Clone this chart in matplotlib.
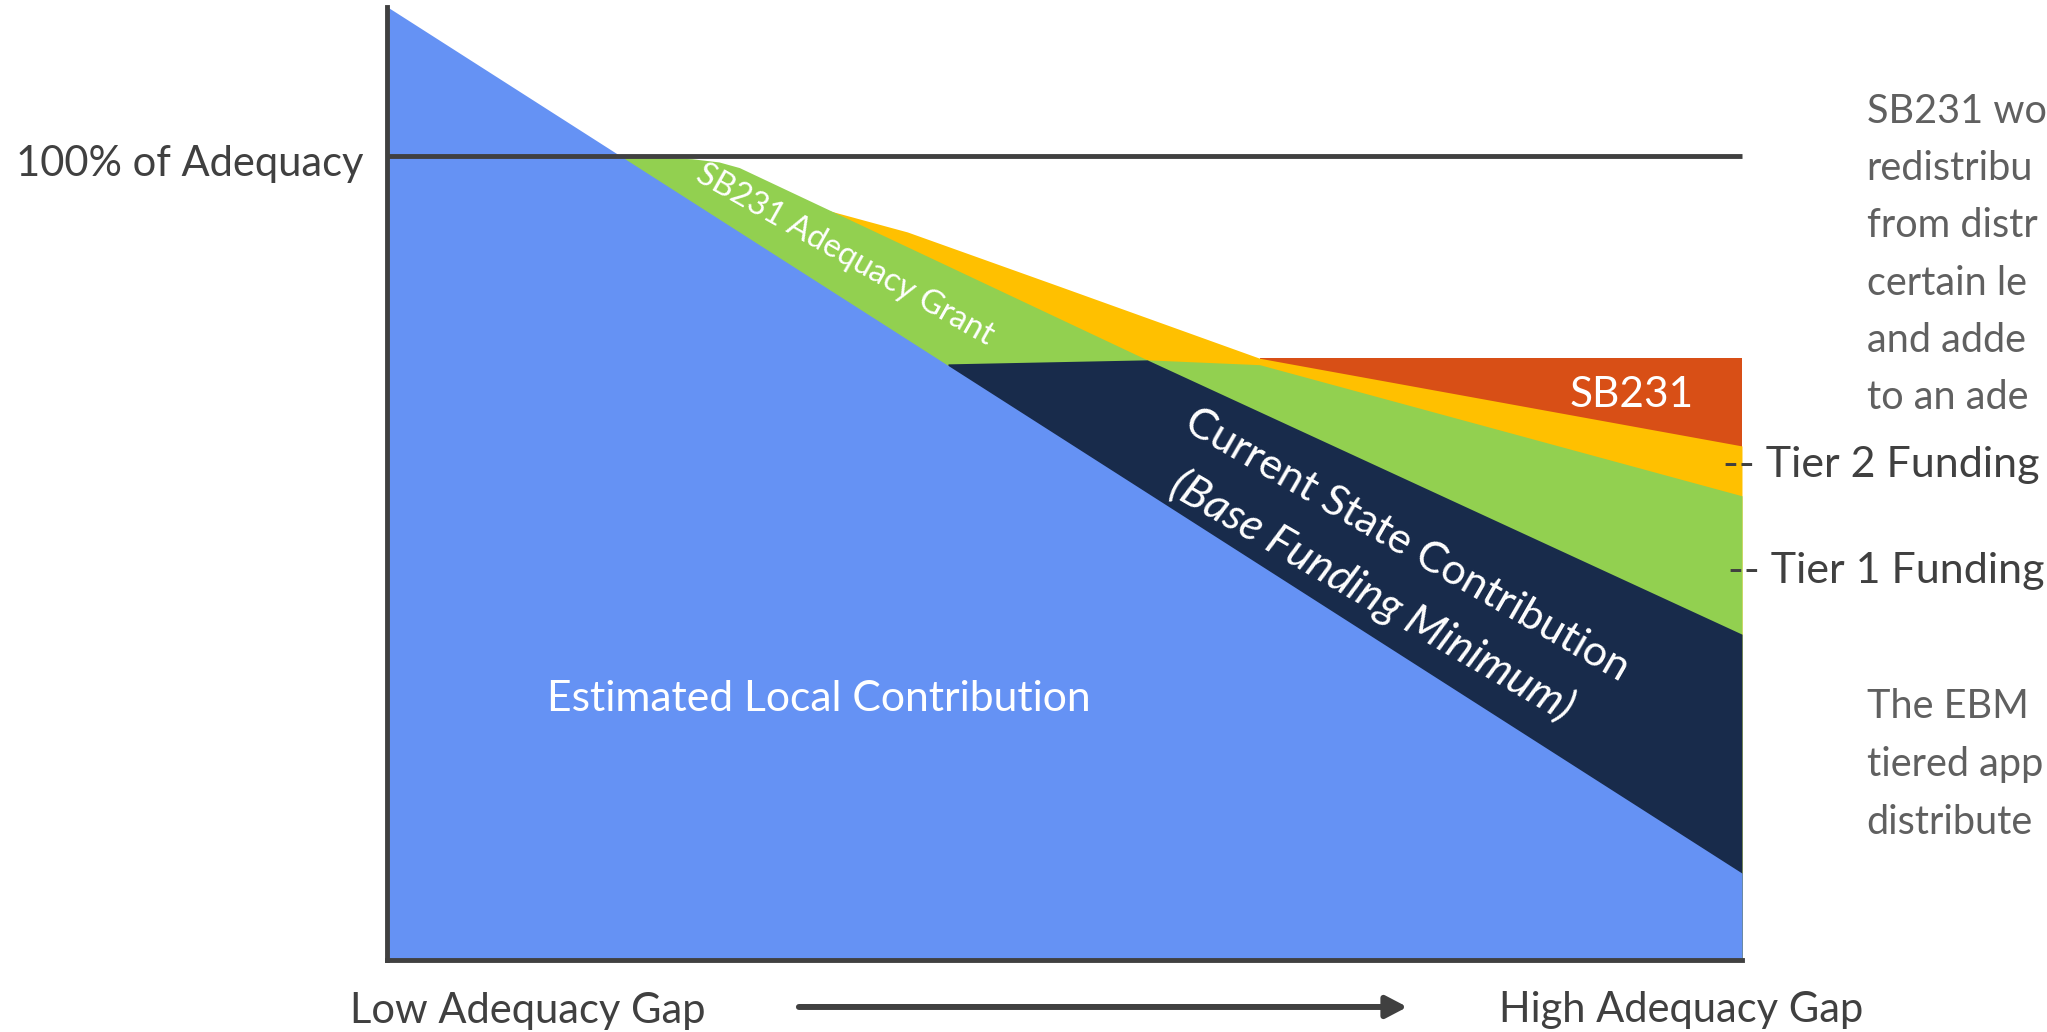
import matplotlib
matplotlib.use("Agg")
import matplotlib.pyplot as plt

plt.rcParams["font.family"] = ["Lato", "DejaVu Sans"]

# boundary curves (x: adequacy gap 0-100, y: % of adequacy)
local_x = [0, 100]
local_top = [118.5, 10.8]

base_x = [41.4, 56.1, 100]
base_top = [74.1, 74.6, 40.5]

grant_x = [16.9, 22.5, 24.5, 26.0, 56.1, 64.4, 100]
grant_top = [100.0, 99.6, 99.2, 98.5, 74.6, 74.0, 57.7]

tier2_x = [32.5, 38.4, 49.7, 64.4, 100]
tier2_top = [93.2, 90.5, 83.7, 74.8, 63.9]

sb231_x = [64.4, 100]
sb231_top = [74.8, 74.8]

# side notes, cut off at the slide edge in the original
upper_note = ["SB231 wo", "redistribu", "from distr", "certain le",
              "and adde", "to an ade"]
lower_note = ["The EBM", "tiered app", "distribute"]

BLUE = "#6592F4"
NAVY = "#182B4B"
GREEN = "#92D050"
YELLOW = "#FFC000"
RED = "#D84F16"
DARK = "#404040"
GREY = "#606060"


def main() -> None:
    fig = plt.figure(figsize=(20.47, 10.32), dpi=100)
    ax = fig.add_axes([0, 0, 1, 1])
    ax.set_xlim(-28.56, 122.51)
    ax.set_ylim(-8.95, 119.33)
    ax.axis("off")

    # painter's order: each band filled down to 0, lower bands on top
    ax.fill_between(sb231_x, 0, sb231_top, color=RED, lw=0, zorder=1)
    ax.fill_between(tier2_x, 0, tier2_top, color=YELLOW, lw=0, zorder=2)
    ax.fill_between(grant_x, 0, grant_top, color=GREEN, lw=0, zorder=3)
    ax.fill_between(base_x, 0, base_top, color=NAVY, lw=0, zorder=4)
    ax.fill_between(local_x, 0, local_top, color=BLUE, lw=0, zorder=5)

    # axes and 100% line
    ax.plot([0, 0], [0, local_top[0]], color=DARK, lw=3.5, zorder=10,
            solid_capstyle="projecting")
    ax.plot([0, 100], [0, 0], color=DARK, lw=3.5, zorder=10,
            solid_capstyle="projecting")
    ax.plot([0, 100], [100, 100], color=DARK, lw=3.5, zorder=10,
            solid_capstyle="butt")

    ax.annotate("", xy=(75.3, -5.84), xytext=(30.4, -5.84),
                arrowprops=dict(arrowstyle="-|>,head_length=0.42,head_width=0.22",
                                lw=4.3, color=DARK, mutation_scale=30,
                                shrinkA=0, shrinkB=0))

    ax.text(-1.77, 97.45, "100% of Adequacy", ha="right", va="baseline",
            fontsize=30, color=DARK)
    ax.text(-2.73, -7.83, "Low Adequacy Gap", ha="left", va="baseline",
            fontsize=30, color=DARK)
    ax.text(82.07, -7.71, "High Adequacy Gap", ha="left", va="baseline",
            fontsize=30, color=DARK)

    ax.text(11.8, 30.95, "Estimated Local Contribution", ha="left",
            va="baseline", fontsize=30.7, color="white", zorder=12)
    ax.text(87.3, 68.7, "SB231", ha="left", va="baseline", fontsize=30.5,
            color="white", zorder=12)
    ax.text(33.8, 87.6, "SB231 Adequacy Grant", ha="center", va="center",
            rotation=-29.5, rotation_mode="anchor", fontsize=23.5,
            color="white", zorder=12)
    ax.text(75.3, 51.6, "Current State Contribution", ha="center",
            va="center", rotation=-30, rotation_mode="anchor", fontsize=31,
            color="white", zorder=12)
    ax.text(72.7, 45.3, "(Base Funding Minimum)", ha="center", va="center",
            rotation=-30, rotation_mode="anchor", fontsize=32,
            style="italic", color="white", zorder=12)

    ax.text(98.6, 61.5, "-- Tier 2 Funding", ha="left", va="center",
            fontsize=31, color=DARK, zorder=12)
    ax.text(98.97, 48.35, "-- Tier 1 Funding", ha="left", va="center",
            fontsize=31, color=DARK, zorder=12)

    upper_base = [104.1, 96.95, 89.87, 82.66, 75.57, 68.44]
    for line, yb in zip(upper_note, upper_base):
        ax.text(109.2, yb, line, ha="left", va="baseline", fontsize=28.5,
                color=GREY)
    lower_base = [30.08, 22.87, 15.7]
    for line, yb in zip(lower_note, lower_base):
        ax.text(109.2, yb, line, ha="left", va="baseline", fontsize=28.5,
                color=GREY)

    fig.savefig("out.png", dpi=100, facecolor="white")


if __name__ == "__main__":
    main()
